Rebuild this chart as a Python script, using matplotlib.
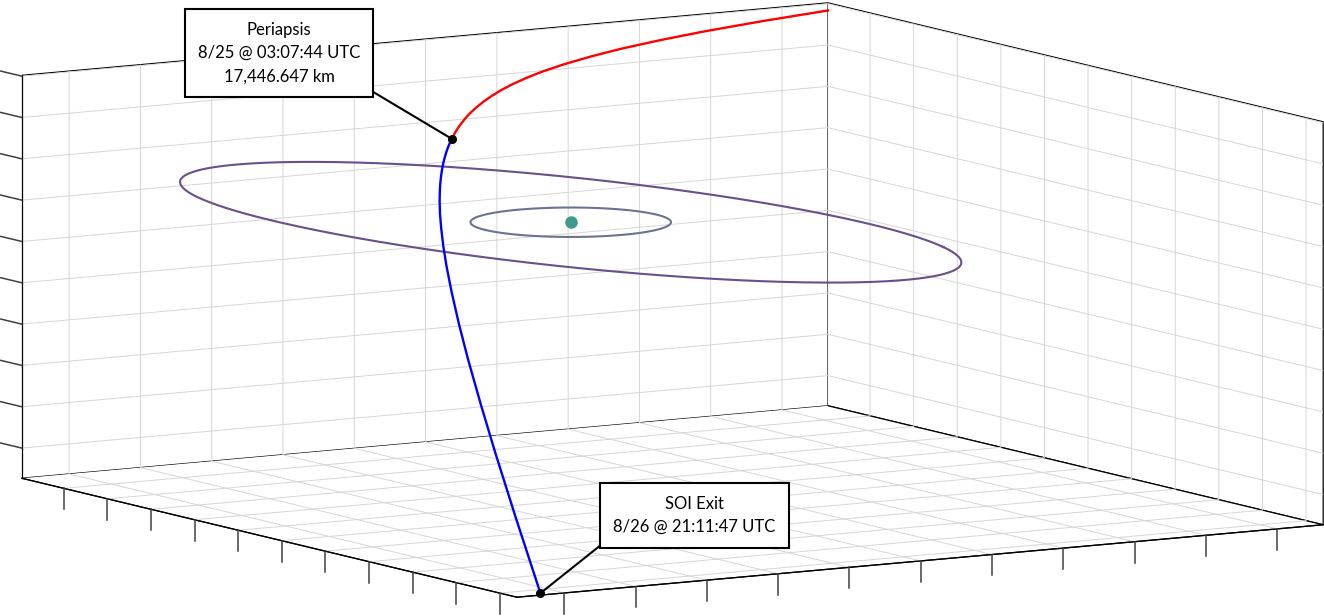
import numpy as np
import matplotlib
matplotlib.use("Agg")
import matplotlib.pyplot as plt
from matplotlib.path import Path
from mpl_toolkits.mplot3d import proj3d

plt.rcParams['font.family'] = ['Lato', 'DejaVu Sans']
plt.rcParams['grid.color'] = '#d6d6d6'
plt.rcParams['grid.linewidth'] = 0.7

# axis limits (km), tight around the data
x_lim = (-49640, 63930)
y_lim = (-46650, 66460)
z_lim = (-33650, 15100)
x_ticks = list(range(-40000, 60001, 10000))
y_ticks = list(range(-40000, 60001, 10000))
z_ticks = list(range(-30000, 15001, 5000))

# inbound leg, SOI entry -> periapsis (km)
in_x = [-49640, -44090, -39230, -35510, -31870, -28970, -26140, -23780, -21760, -19970,
        -18350, -16860, -15460, -14350, -13280, -12440, -11610, -10780, -10170, -9550,
        -9140, -8730, -8320, -7900, -7490]
in_y = [66460, 53570, 42560, 34330, 26550, 20600, 15030, 10630, 7040, 4030,
        1450, -790, -2790, -4290, -5680, -6730, -7720, -8660, -9350, -10010,
        -10450, -10870, -11290, -11700, -12110]
in_z = [14180, 14550, 14790, 14880, 14890, 14800, 14630, 14410, 14140, 13850,
        13540, 13200, 12840, 12530, 12210, 11940, 11660, 11370, 11140, 10910,
        10750, 10590, 10420, 10250, 10080]

# outbound leg, periapsis -> SOI exit (km)
out_x = [-7490, -7070, -6640, -6210, -5780, -5340, -4670, -3990, -3050, -2070,
         -1050, 290, 1740, 3630, 5740, 8150, 10920, 14210, 18210, 23230,
         28570, 35510, 42810, 52560, 63930]
out_y = [-12110, -12520, -12910, -13310, -13700, -14090, -14660, -15230, -15990, -16750,
         -17500, -18450, -19420, -20610, -21850, -23150, -24560, -26110, -27850, -29880,
         -31890, -34330, -36770, -39870, -43350]
out_z = [10080, 9900, 9720, 9530, 9340, 9150, 8840, 8520, 8070, 7600,
         7090, 6400, 5640, 4610, 3440, 2070, 440, -1520, -3960, -7080,
         -10450, -14880, -19600, -25950, -33420]

# moon orbits: radius (km), inclination, node (deg)
moon_radius = [12000, 47000]
moon_incl = [0.0, 6.2]
moon_node = [0.0, 166.0]
moon_color = ['#6b7392', '#6a4f8c']

peri_text = 'Periapsis\n8/25 @ 03:07:44 UTC\n17,446.647 km'
exit_text = 'SOI Exit\n8/26 @ 21:11:47 UTC'


def ring(radius, incl, node):
    verts = Path.circle((0, 0), radius).to_polygons(closed_only=False)[0]
    i, o = np.radians(incl), np.radians(node)
    u = np.array([np.cos(o), np.sin(o), 0.0])
    v = np.array([-np.sin(o) * np.cos(i), np.cos(o) * np.cos(i), np.sin(i)])
    return verts[:, :1] * u + verts[:, 1:2] * v


fig = plt.figure(figsize=(13.24, 6.16), dpi=100)
ax = fig.add_axes([-0.01918, -0.61997, 1.02644, 2.20617], projection='3d')
ax.set_proj_type('ortho')
ax.set_xlim(*x_lim)
ax.set_ylim(*y_lim)
ax.set_zlim(*z_lim)
ax.set_box_aspect((x_lim[1] - x_lim[0], y_lim[1] - y_lim[0], z_lim[1] - z_lim[0]))
ax.view_init(elev=8.45, azim=-31.45)

ax.set_xticks(x_ticks)
ax.set_yticks(y_ticks)
ax.set_zticks(z_ticks)
ax.set_xticklabels([])
ax.set_yticklabels([])
ax.set_zticklabels([])
ax.zaxis.set_ticks_position('lower')

for axis, tdir, fac in ((ax.xaxis, 2, 0.65), (ax.yaxis, 2, 0.65), (ax.zaxis, 0, 0.53)):
    axis.set_pane_color((1, 1, 1, 1))
    axis.pane.set_edgecolor('black')
    axis.pane.set_linewidth(0.9)
    axis.line.set_color('black')
    axis.line.set_linewidth(0.9)
    axis._get_tickdir = (lambda d: (lambda *a, **k: d))(tdir)
    axis._axinfo['tick']['outward_factor'] = fac
    axis._axinfo['tick']['inward_factor'] = 0.0
    axis._axinfo['tick']['linewidth'] = {True: 1.1, False: 0.5}
ax.tick_params(colors='#404040')
ax.grid(True)

for rad, inc, node, col in zip(moon_radius, moon_incl, moon_node, moon_color):
    xyz = ring(rad, inc, node)
    ax.plot(xyz[:, 0], xyz[:, 1], xyz[:, 2], color=col, lw=1.5)

ax.plot(in_x, in_y, in_z, color='red', lw=1.7)
ax.plot(out_x, out_y, out_z, color='blue', lw=1.7)
ax.plot([0], [0], [0], 'o', color='#3d9a8c', ms=8)
ax.plot(out_x[:1], out_y[:1], out_z[:1], 'o', color='black', ms=5.5)
ax.plot(out_x[-1:], out_y[-1:], out_z[-1:], 'o', color='black', ms=5.5)

M = ax.get_proj()
px, py, _ = proj3d.proj_transform(out_x[0], out_y[0], out_z[0], M)
sx, sy, _ = proj3d.proj_transform(out_x[-1], out_y[-1], out_z[-1], M)
box = dict(boxstyle='square,pad=0.78', fc='white', ec='black', lw=1.5)
ax.annotate(peri_text, xy=(px, py), xycoords='data',
            xytext=(0.2107, 0.914), textcoords='figure fraction', ha='center', va='center',
            fontsize=12, linespacing=1.55, bbox=box,
            arrowprops=dict(arrowstyle='-', color='black', lw=1.5, shrinkA=0, shrinkB=0, relpos=(1, 0)))
ax.annotate(exit_text, xy=(sx, sy), xycoords='data',
            xytext=(0.5245, 0.1631), textcoords='figure fraction', ha='center', va='center',
            fontsize=12, linespacing=1.55, bbox=box,
            arrowprops=dict(arrowstyle='-', color='black', lw=1.5, shrinkA=0, shrinkB=0, relpos=(0, 0)))

fig.savefig('out.png', dpi=100)
